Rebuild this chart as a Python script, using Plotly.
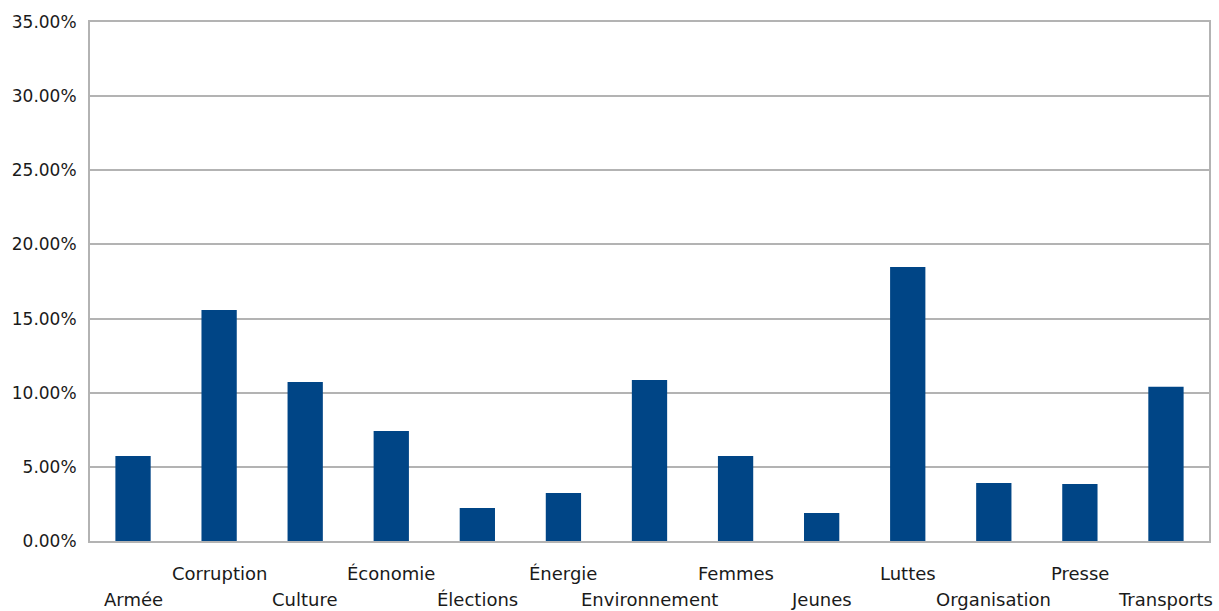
import plotly.graph_objects as go

categories = ["Armée", "Corruption", "Culture", "Économie", "Élections", "Énergie",
              "Environnement", "Femmes", "Jeunes", "Luttes", "Organisation", "Presse", "Transports"]
values = [0.0573, 0.1558, 0.1072, 0.0742, 0.0223, 0.0324, 0.1086, 0.0573, 0.0189,
          0.1848, 0.0391, 0.0384, 0.1040]
y_ticks = [0, 0.05, 0.10, 0.15, 0.20, 0.25, 0.30, 0.35]

FONT = "DejaVu Sans"
fig = go.Figure()
fig.add_trace(go.Bar(x=categories, y=values, marker_color="#004586", width=0.41,
                     marker_line_width=0))

for i, c in enumerate(categories):
    fig.add_annotation(x=c, y=0, xref="x", yref="y", text=c, showarrow=False,
                       yanchor="middle", yshift=-(32 if i % 2 == 1 else 58),
                       font=dict(family=FONT, size=18, color="#1a1a1a"))

fig.update_layout(
    width=1219, height=611,
    margin=dict(l=90, r=8, t=22, b=70),
    plot_bgcolor="white", paper_bgcolor="white",
    showlegend=False,
    font=dict(family=FONT, size=16, color="#1a1a1a"),
)
fig.update_xaxes(range=[-0.5, len(categories) - 0.5], showticklabels=False, showline=True,
                 mirror=True, linecolor="#b3b3b3", linewidth=2, ticks="", showgrid=False)
fig.update_yaxes(range=[0, 0.35], tickvals=y_ticks, tickformat=".2%", showgrid=True,
                 gridcolor="#b3b3b3", gridwidth=1.6, showline=True, mirror=True,
                 linecolor="#b3b3b3", linewidth=2, zeroline=False, ticks="",
                 ticklabelstandoff=8, tickfont=dict(family=FONT, size=17, color="#1a1a1a"))

fig.write_html("out.html")
